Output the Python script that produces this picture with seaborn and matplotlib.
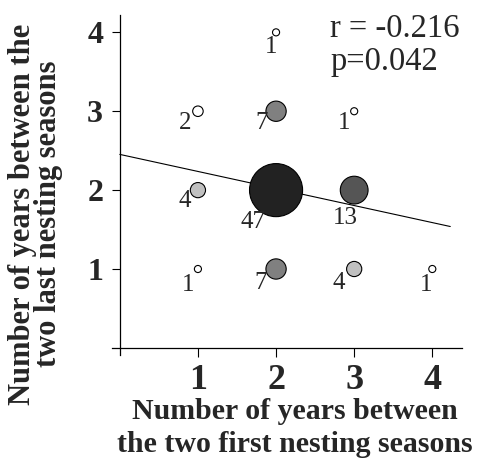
import pandas as pd
import seaborn as sns
import matplotlib.pyplot as plt

"""
Data: number of females per combination of nesting intervals
"""
first_gap = [2, 1, 2, 3, 1, 2, 3, 1, 2, 3, 4]
last_gap = [4, 3, 3, 3, 2, 2, 2, 1, 1, 1, 1]
n_females = [1, 2, 7, 1, 4, 47, 13, 1, 7, 4, 1]
tick_values = [1, 2, 3, 4]
r_text = "r = -0.216"
p_text = "p=0.042"
x_title = "Number of years between\nthe two first nesting seasons"
y_title = "Number of years between the\ntwo last nesting seasons"

# where each count label sits relative to its bubble (pixels, right / up)
label_offsets = [(-5, -15), (-13, -12), (-14, -12), (-10, -12), (-13, -11), (-23, -32),
                 (-9, -28), (-10, -16), (-15, -14), (-15, -14), (-6, -16)]

df = pd.DataFrame({"first": first_gap, "last": last_gap, "n": n_females})
# one row per female for the regression line
df_long = df.loc[df.index.repeat(df["n"])]

sns.set_style("white")
plt.rcParams["font.family"] = ["Liberation Serif", "DejaVu Serif"]

fig = plt.figure(figsize=(4.79, 4.63), dpi=100)
ax = fig.add_axes([0.2338, 0.2333, 0.7307, 0.7343])

"""
Regression line
"""
ax.set_xlim(0, 4.23)
sns.regplot(data=df_long, x="first", y="last", scatter=False, ci=None,
            truncate=False, color="black",
            line_kws={"lw": 0.8, "zorder": 1}, ax=ax)

"""
Bubbles
"""
greys = {1: "white", 2: "white", 4: "#c0c0c0", 7: "#808080",
         13: "#555555", 47: "#222222"}
sns.scatterplot(data=df, x="first", y="last", hue="n", palette=greys,
                size="n", sizes=(26, 1460), size_norm=(1, 47),
                edgecolor="black", linewidth=0.8, legend=False,
                zorder=3, ax=ax)

for (x, y, n), (dx, dy) in zip(zip(first_gap, last_gap, n_females), label_offsets):
    ax.annotate(str(n), (x, y), xytext=(dx, dy), textcoords="offset pixels",
                ha="center", va="center", fontsize=18, zorder=4)

ax.text(0.623, 1.005, r_text + "\n" + p_text, transform=ax.transAxes,
        ha="left", va="top", fontsize=23.5, linespacing=1.1)

"""
Axes styling
"""
ax.set_xlim(-0.1, 4.38)
ax.set_ylim(-0.09, 4.22)
sns.despine(ax=ax)
ax.spines["left"].set_position(("data", 0))
ax.spines["bottom"].set_position(("data", 0))
for side in ["left", "bottom"]:
    ax.spines[side].set_linewidth(0.9)
    ax.spines[side].set_color("black")

ax.set_xticks(tick_values)
ax.set_yticks(tick_values)
ax.tick_params(axis="both", direction="out", bottom=True, left=True,
               width=0.8, color="black")
ax.tick_params(axis="x", length=6.5, pad=5, labelsize=26)
ax.tick_params(axis="y", length=6, pad=6, labelsize=23)
for lab in ax.get_xticklabels() + ax.get_yticklabels():
    lab.set_fontweight("bold")

ax.set_xlabel(x_title, fontsize=21.5, fontweight="bold", linespacing=1.25)
ax.set_ylabel(y_title, fontsize=22, fontweight="bold", linespacing=0.85)
ax.xaxis.set_label_coords(0.523, -0.128)
ax.yaxis.set_label_coords(-0.141, 0.415)

plt.savefig("out.png", dpi=100)
